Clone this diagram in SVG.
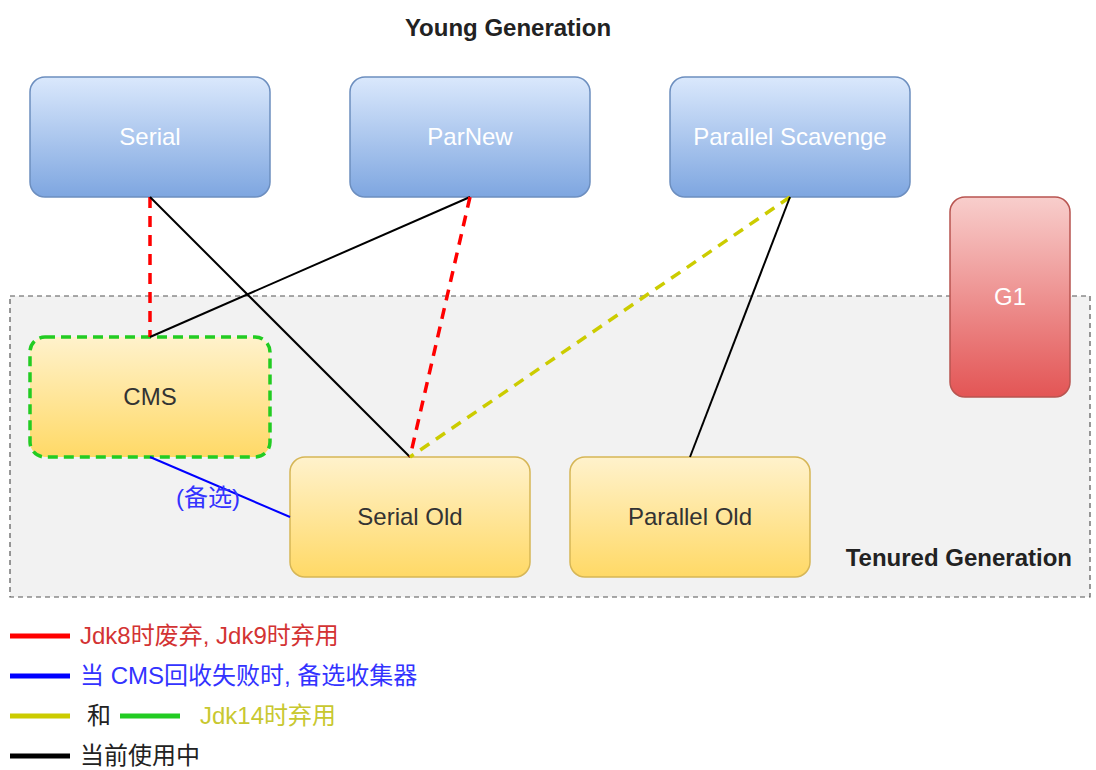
<svg xmlns="http://www.w3.org/2000/svg" width="1096" height="770" viewBox="0 0 1096 770">
<defs>
<linearGradient id="gBlue" x1="0" y1="0" x2="0" y2="1"><stop offset="0" stop-color="#dae8fc"/><stop offset="1" stop-color="#7ea6e0"/></linearGradient>
<linearGradient id="gYellow" x1="0" y1="0" x2="0" y2="1"><stop offset="0" stop-color="#fff2cc"/><stop offset="1" stop-color="#ffd966"/></linearGradient>
<linearGradient id="gRed" x1="0" y1="0" x2="0" y2="1"><stop offset="0" stop-color="#f8cecc"/><stop offset="1" stop-color="#e35555"/></linearGradient>
</defs>
<style>
text{font-family:"Liberation Sans",Arial,"Noto Sans CJK SC",sans-serif;font-size:24px}
.blue{fill:url(#gBlue);stroke:#6c8ebf;stroke-width:1.5}
.yel{fill:url(#gYellow);stroke:#d6b656;stroke-width:1.5}
.red{fill:url(#gRed);stroke:#b85450;stroke-width:1.5}
.wt{fill:#ffffff;text-anchor:middle}
.dk{fill:#333333;text-anchor:middle}
.title{font-weight:bold;fill:#222222}
.c{fill:none;stroke-width:2}
.d{stroke-width:3.5;stroke-dasharray:11 8}
.leg{stroke-width:5}
</style>
<rect width="1096" height="770" fill="#ffffff"/>
<g id="tenured">
<rect x="10" y="296" width="1080" height="301" fill="#f2f2f2" stroke="#555555" stroke-width="1.2" stroke-dasharray="5 4"/>
<text x="1072" y="566" class="title" text-anchor="end">Tenured Generation</text>
</g>
<text x="508" y="36" class="title" text-anchor="middle">Young Generation</text>
<g id="g1"><rect x="950" y="197" width="120" height="200" rx="15" class="red"/><text x="1010" y="305" class="wt">G1</text></g>
<g id="serial"><rect x="30" y="77" width="240" height="120" rx="15" class="blue"/><text x="150" y="145" class="wt">Serial</text></g>
<g id="parnew"><rect x="350" y="77" width="240" height="120" rx="15" class="blue"/><text x="470" y="145" class="wt">ParNew</text></g>
<g id="ps"><rect x="670" y="77" width="240" height="120" rx="15" class="blue"/><text x="790" y="145" class="wt">Parallel Scavenge</text></g>
<g id="cms"><rect x="30" y="337" width="240" height="120" rx="15" fill="url(#gYellow)" stroke="#22cc22" stroke-width="3.5" stroke-dasharray="10 6"/><text x="150" y="405" class="dk">CMS</text></g>
<g id="serialold"><rect x="290" y="457" width="240" height="120" rx="15" class="yel"/><text x="410" y="525" class="dk">Serial Old</text></g>
<g id="parold"><rect x="570" y="457" width="240" height="120" rx="15" class="yel"/><text x="690" y="525" class="dk">Parallel Old</text></g>
<g id="connectors">
<line x1="150" y1="197" x2="150" y2="337" class="c d" stroke="#ff0000"/>
<line x1="150" y1="197" x2="410" y2="457" class="c" stroke="#000000"/>
<line x1="470" y1="197" x2="150" y2="337" class="c" stroke="#000000"/>
<line x1="470" y1="197" x2="410" y2="457" class="c d" stroke="#ff0000"/>
<line x1="790" y1="197" x2="410" y2="457" class="c d" stroke="#cccc00"/>
<line x1="790" y1="197" x2="690" y2="457" class="c" stroke="#000000"/>
<line x1="150" y1="457" x2="290" y2="517" class="c" stroke="#0000ff"/>
<text x="208" y="506" fill="#3333ff" text-anchor="middle">(备选)</text>
</g>
<g id="legend">
<line x1="10" y1="636" x2="70" y2="636" class="leg" stroke="#ff0000"/>
<text x="80" y="644" fill="#d33333">Jdk8时废弃, Jdk9时弃用</text>
<line x1="10" y1="676" x2="70" y2="676" class="leg" stroke="#0000ff"/>
<text x="80" y="684" fill="#3333ff">当 CMS回收失败时, 备选收集器</text>
<line x1="10" y1="716" x2="70" y2="716" class="leg" stroke="#cccc00"/>
<text x="87" y="724" fill="#222222">和</text>
<line x1="120" y1="716" x2="180" y2="716" class="leg" stroke="#22cc22"/>
<text x="200" y="724" fill="#c8c830">Jdk14时弃用</text>
<line x1="10" y1="756" x2="70" y2="756" class="leg" stroke="#000000"/>
<text x="80" y="764" fill="#222222">当前使用中</text>
</g>
</svg>
